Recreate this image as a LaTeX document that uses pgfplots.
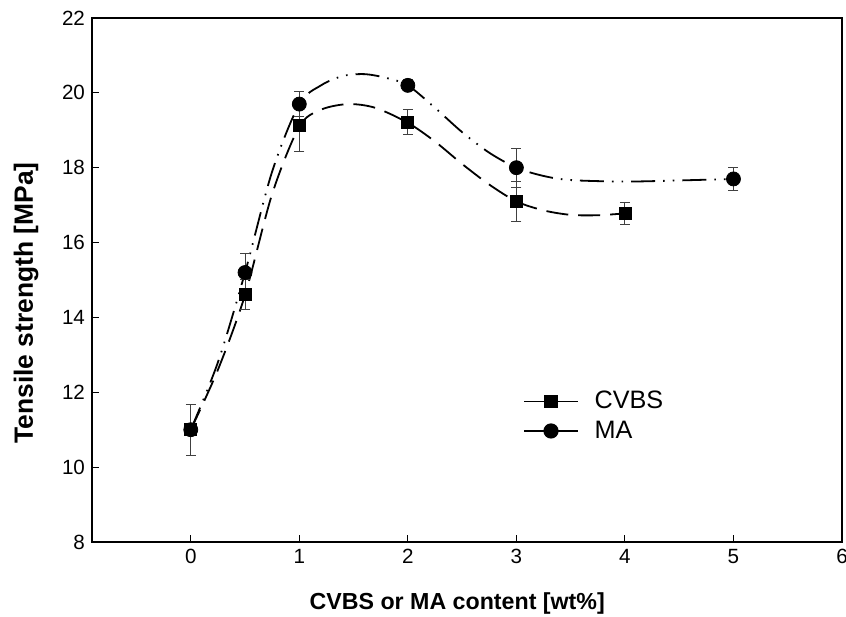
\documentclass[border=0pt]{standalone}
\usepackage{pgfplots}
\pgfplotsset{compat=1.18}
\usepackage{fontspec}
\setmainfont{Liberation Sans}

\pgfplotstableread{
x y e
0 11.0 0.68
0.5 14.62 0.40
1 19.12 0.70
2 19.22 0.33
3 17.10 0.53
4 16.78 0.30
}\cvbs

\pgfplotstableread{
x y e
0 11.0 0.68
0.5 15.20 0.50
1 19.70 0.33
2 20.20 0.15
3 18.00 0.52
5 17.70 0.30
}\ma

\begin{document}
\begin{tikzpicture}
\useasboundingbox (-46pt,-37pt) rectangle (377pt,271pt);
\begin{axis}[
  scale only axis, width=375pt, height=262pt,
  at={(0,0)}, anchor=south west,
  xmin=-0.91, xmax=6, ymin=8, ymax=22,
  xtick={0,...,6}, ytick={8,10,...,22},
  tick align=inside, xtick pos=bottom, ytick pos=left,
  major tick length=3.5pt,
  axis line style={line width=0.6pt},
  tick style={line width=0.5pt, black},
  /pgf/number format/assume math mode=true,
  tick label style={font=\fontsize{10.3}{12}\selectfont},
  xlabel={\textbf{CVBS or MA content [wt\%]}},
  ylabel={\textbf{Tensile strength [MPa]}},
  xlabel style={font=\fontsize{11.6}{13}\selectfont, at={(axis description cs:0.487,-0.128)}, anchor=base},
  ylabel style={font=\fontsize{13.2}{15}\selectfont, at={(axis description cs:-0.079,0.456)}, anchor=base, rotate=0},
  legend style={draw=none, fill=none, at={(0.572,0.30)}, anchor=north west,
    font=\fontsize{12.6}{14}\selectfont, row sep=0.5pt, inner sep=1pt},
  legend cell align=left,
  legend image code/.code={\draw[mark repeat=2,mark phase=2,#1] plot coordinates {(0pt,0pt)(13.5pt,0pt)(27pt,0pt)}; \path (33pt,0pt);},
  error bars/error bar style={line width=0.5pt, black!75},
  error bars/error mark options={rotate=90, mark size=2.5pt, line width=0.5pt, black!75},
]
% fitted curves
\addplot[forget plot, black, line width=0.9pt, smooth, tension=0.5,
  dash pattern=on 12pt off 4pt on 0.8pt off 4pt on 0.8pt off 4pt] coordinates {
  (0,11.0) (0.25,12.8) (0.5,15.2) (0.75,17.9) (1.0,19.7) (1.2,20.2) (1.4,20.45)
  (1.6,20.5) (1.8,20.4) (2.0,20.2) (2.25,19.6) (2.5,18.95) (2.75,18.4) (3.0,18.0)
  (3.25,17.78) (3.5,17.67) (4.0,17.63) (4.5,17.66) (5.0,17.7)};
\addplot[forget plot, black, line width=0.9pt, smooth, tension=0.5,
  dash pattern=on 11pt off 5pt] coordinates {
  (0,11.0) (0.25,12.6) (0.5,14.6) (0.75,17.3) (1.0,19.1) (1.2,19.55) (1.45,19.7)
  (1.7,19.6) (2.0,19.2) (2.25,18.7) (2.5,18.1) (2.75,17.55) (3.0,17.1)
  (3.25,16.86) (3.5,16.74) (3.75,16.73) (4.0,16.78)};
% measured points
\addplot[forget plot, only marks, mark=*, mark size=3.5pt, black,
  error bars/.cd, y dir=both, y explicit] table[x=x, y=y, y error=e] {\ma};
\addplot[forget plot, only marks, mark=square*, mark size=3pt, black,
  error bars/.cd, y dir=both, y explicit] table[x=x, y=y, y error=e] {\cvbs};
\addlegendimage{black, solid, line width=0.6pt, mark=square*, mark size=3pt}
\addlegendentry{CVBS}
\addlegendimage{black, solid, line width=0.6pt, mark=*, mark size=3.5pt}
\addlegendentry{MA}
\end{axis}
\end{tikzpicture}
\end{document}
